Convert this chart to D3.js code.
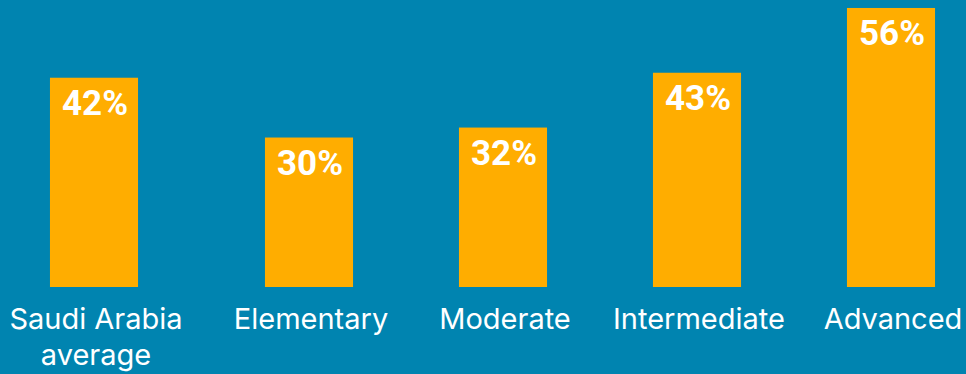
<!DOCTYPE html>
<html>
<head>
<meta charset="utf-8">
<script src="https://cdn.jsdelivr.net/npm/d3@7"></script>
<style>
  html, body { margin: 0; padding: 0; background: #0084B0; }
  svg { display: block; }
</style>
</head>
<body>
<svg id="chart" width="966" height="374"></svg>
<script>
// Share of respondents by proficiency level
const categories = ["Saudi Arabia average", "Elementary", "Moderate", "Intermediate", "Advanced"];
const labelLines = [["Saudi Arabia", "average"], ["Elementary"], ["Moderate"], ["Intermediate"], ["Advanced"]];
const values = [42, 30, 32, 43, 56];

const W = 966, H = 374;
const baseY = 287;
const avgGap = 21; // extra space separating the average from the levels

const svg = d3.select("#chart");
svg.append("rect").attr("width", W).attr("height", H).attr("fill", "#0084B0");

const x = d3.scaleBand()
  .domain(categories)
  .range([18, 988])
  .paddingInner(0.546)
  .paddingOuter(0.273);

const y = d3.scaleLinear().domain([0, 57.6]).range([baseY, 0]);

const xPos = (d, i) => x(d) - (i === 0 ? avgGap : 0);

const g = svg.append("g");

g.selectAll("rect.bar")
  .data(categories)
  .join("rect")
  .attr("class", "bar")
  .attr("x", (d, i) => xPos(d, i))
  .attr("y", (d, i) => y(values[i]))
  .attr("width", x.bandwidth())
  .attr("height", (d, i) => y(0) - y(values[i]))
  .attr("fill", "#FFAD00");

g.selectAll("text.value")
  .data(categories)
  .join("text")
  .attr("class", "value")
  .attr("x", (d, i) => xPos(d, i) + x.bandwidth() / 2 + 1)
  .attr("y", (d, i) => y(values[i]) + 37)
  .attr("text-anchor", "middle")
  .attr("fill", "#ffffff")
  .style("font-family", "Roboto, 'Noto Sans', sans-serif")
  .style("font-weight", "700")
  .style("font-size", "35px")
  .text((d, i) => values[i] + "%");

const lab = g.selectAll("text.cat")
  .data(categories)
  .join("text")
  .attr("class", "cat")
  .attr("text-anchor", "middle")
  .attr("fill", "#ffffff")
  .style("font-family", "Inter, 'Noto Sans', sans-serif")
  .style("font-size", "29px")
  .attr("transform", (d, i) => `translate(${xPos(d, i) + x.bandwidth() / 2 + 2},329)`);

lab.selectAll("tspan")
  .data((d, i) => labelLines[i])
  .join("tspan")
  .attr("x", 0)
  .attr("dy", (d, j) => j === 0 ? 0 : 36)
  .text(d => d);
</script>
</body>
</html>
